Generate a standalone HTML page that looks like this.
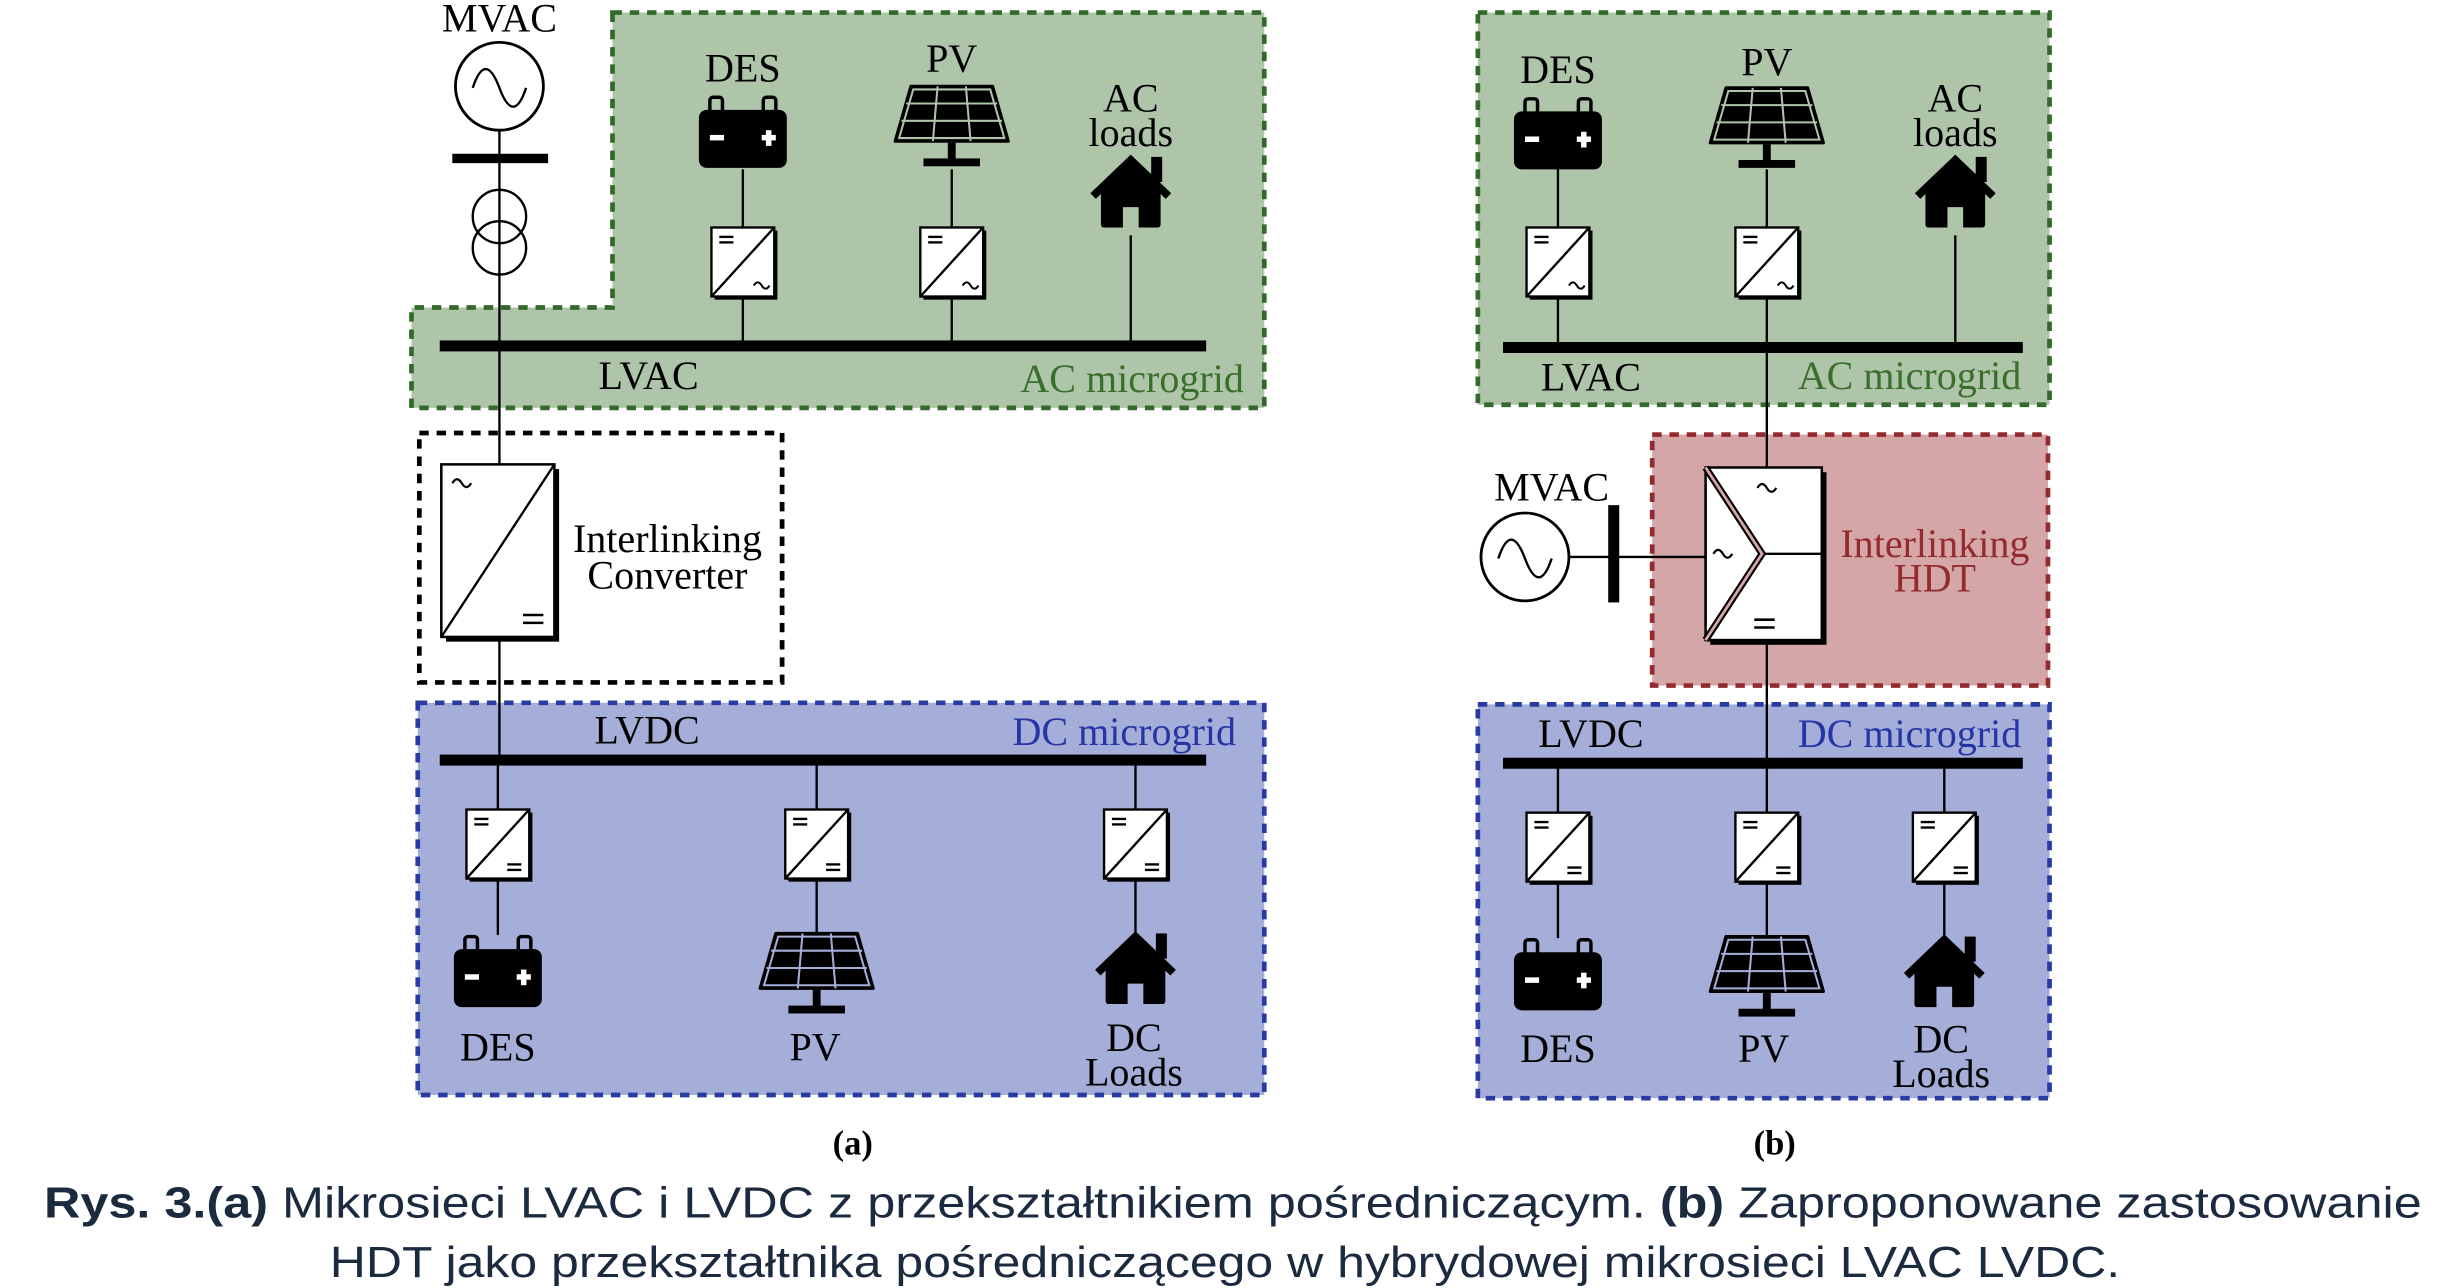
<!DOCTYPE html>
<html><head><meta charset="utf-8"><style>
html,body{margin:0;padding:0;background:#fff;}
svg{display:block;}
</style></head><body>
<svg width="2461" height="1288" viewBox="0 0 1567 821" preserveAspectRatio="none" xmlns="http://www.w3.org/2000/svg" font-family="'Liberation Serif', serif">
<defs>
  <g id="convAC">
    <rect x="2" y="2" width="40" height="44" fill="#000"/>
    <rect x="0" y="0" width="40" height="44" fill="#fff" stroke="#000" stroke-width="1.5"/>
    <line x1="0" y1="44" x2="40" y2="0" stroke="#000" stroke-width="1.5"/>
    <line x1="5" y1="6" x2="14" y2="6" stroke="#000" stroke-width="1.5"/>
    <line x1="5" y1="9.5" x2="14" y2="9.5" stroke="#000" stroke-width="1.5"/>
    <path d="M27 37 q2.5 -4 5 0 t5 0" fill="none" stroke="#000" stroke-width="1.3"/>
  </g>
  <g id="convDC">
    <rect x="2" y="2" width="40" height="44" fill="#000"/>
    <rect x="0" y="0" width="40" height="44" fill="#fff" stroke="#000" stroke-width="1.5"/>
    <line x1="0" y1="44" x2="40" y2="0" stroke="#000" stroke-width="1.5"/>
    <line x1="5" y1="6" x2="14" y2="6" stroke="#000" stroke-width="1.5"/>
    <line x1="5" y1="9.5" x2="14" y2="9.5" stroke="#000" stroke-width="1.5"/>
    <line x1="26" y1="35" x2="35" y2="35" stroke="#000" stroke-width="1.5"/>
    <line x1="26" y1="38.5" x2="35" y2="38.5" stroke="#000" stroke-width="1.5"/>
  </g>
  <g id="batt">
    <rect x="-21" y="0" width="8" height="12" rx="2" fill="none" stroke="#000" stroke-width="2.2"/>
    <rect x="13" y="0" width="8" height="12" rx="2" fill="none" stroke="#000" stroke-width="2.2"/>
    <rect x="-28" y="8" width="56" height="37" rx="5" fill="#000"/>
    <rect x="-21" y="24" width="9" height="3.5" fill="#fff"/>
    <rect x="12" y="24" width="9" height="3.5" fill="#fff"/>
    <rect x="14.7" y="21" width="3.5" height="10" fill="#fff"/>
  </g>
  <g id="pv">
    <path d="M-26 0 L26 0 L36 35 L-36 35 Z" fill="#000" stroke="#000" stroke-width="2" stroke-linejoin="round"/>
    <g stroke="currentColor" stroke-width="1.3">
      <line x1="-29" y1="11" x2="29" y2="11"/>
      <line x1="-32" y1="22" x2="32" y2="22"/>
      <line x1="-9" y1="0" x2="-12" y2="35"/>
      <line x1="9" y1="0" x2="12" y2="35"/>
      <path d="M-24.5 2 L24.5 2 L33.5 33 L-33.5 33 Z" fill="none"/>
    </g>
    <rect x="-2.5" y="36" width="5" height="11" fill="#000"/>
    <rect x="-18" y="46" width="36" height="5" fill="#000"/>
  </g>
  <g id="house">
    <path d="M-19 21 L-19 43 Q-19 45 -17 45 L-5 45 L-5 32 L5 32 L5 45 L17 45 Q19 45 19 43 L19 21 L0 3 Z" fill="#000"/>
    <path d="M-24 25 L0 2 L24 25" fill="none" stroke="#000" stroke-width="5" stroke-linejoin="miter"/>
    <rect x="13" y="0" width="7" height="16" fill="#000"/>
  </g>
</defs>

<!-- ============ (a) ============ -->
<path d="M390 8 L805 8 L805 260 L262 260 L262 196 L390 196 Z" fill="#afc5aa" stroke="#33692a" stroke-width="3" stroke-dasharray="6,5"/>
<rect x="266" y="448" width="539" height="250" fill="#a5aed8" stroke="#2a3aa3" stroke-width="3" stroke-dasharray="6,5"/>
<rect x="267" y="276" width="231" height="159" fill="#fff" stroke="#000" stroke-width="3" stroke-dasharray="6,5"/>

<g font-size="25.5">
<text x="318" y="20" text-anchor="middle">MVAC</text>
<text x="413" y="248" text-anchor="middle">LVAC</text>
<text x="792" y="250" text-anchor="end" fill="#3a6f2b">AC microgrid</text>
<text x="473" y="52" text-anchor="middle">DES</text>
<text x="606" y="46" text-anchor="middle">PV</text>
<text x="720" y="71" text-anchor="middle">AC</text>
<text x="720" y="93" text-anchor="middle">loads</text>
<text x="425" y="352" text-anchor="middle">Interlinking</text>
<text x="425" y="375" text-anchor="middle">Converter</text>
<text x="412" y="474" text-anchor="middle">LVDC</text>
<text x="787" y="475" text-anchor="end" fill="#2535a5">DC microgrid</text>
<text x="317" y="676" text-anchor="middle">DES</text>
<text x="519" y="676" text-anchor="middle">PV</text>
<text x="722" y="670" text-anchor="middle">DC</text>
<text x="722" y="692" text-anchor="middle">Loads</text>
</g>
<circle cx="318" cy="55" r="28" fill="#fff" stroke="#000" stroke-width="1.8"/>
<path d="M301 56 q8 -24 17 0 t17 0" fill="none" stroke="#000" stroke-width="1.5"/>
<line x1="318" y1="83" x2="318" y2="296" stroke="#000" stroke-width="1.5"/>
<rect x="288" y="98" width="61" height="6" fill="#000"/>
<circle cx="318" cy="138" r="17" fill="none" stroke="#000" stroke-width="1.5"/>
<circle cx="318" cy="158" r="17" fill="none" stroke="#000" stroke-width="1.5"/>
<rect x="280" y="217" width="488" height="7" fill="#000"/>

<use href="#batt" x="473" y="62"/>
<line x1="473" y1="108" x2="473" y2="220" stroke="#000" stroke-width="1.5"/>
<use href="#convAC" x="453" y="145"/>
<use href="#pv" x="606" y="55" color="#afc5aa"/>
<line x1="606" y1="108" x2="606" y2="220" stroke="#000" stroke-width="1.5"/>
<use href="#convAC" x="586" y="145"/>
<use href="#house" x="720" y="100"/>
<line x1="720" y1="150" x2="720" y2="220" stroke="#000" stroke-width="1.5"/>

<!-- interlinking converter -->
<rect x="284" y="299" width="72" height="110" fill="#000"/>
<rect x="281" y="296" width="72" height="110" fill="#fff" stroke="#000" stroke-width="1.6"/>
<line x1="281" y1="406" x2="353" y2="296" stroke="#000" stroke-width="1.5"/>
<path d="M288 308 q3 -5 6 0 t6 0" fill="none" stroke="#000" stroke-width="1.4"/>
<line x1="333" y1="392" x2="346" y2="392" stroke="#000" stroke-width="1.6"/>
<line x1="333" y1="397" x2="346" y2="397" stroke="#000" stroke-width="1.6"/>
<line x1="318" y1="406" x2="318" y2="484" stroke="#000" stroke-width="1.5"/>

<rect x="280" y="481" width="488" height="7" fill="#000"/>
<g stroke="#000" stroke-width="1.5">
<line x1="317" y1="484" x2="317" y2="596"/>
<line x1="520" y1="484" x2="520" y2="596"/>
<line x1="723" y1="484" x2="723" y2="596"/>
</g>
<use href="#convDC" x="297" y="516"/>
<use href="#convDC" x="500" y="516"/>
<use href="#convDC" x="703" y="516"/>
<use href="#batt" x="317" y="597"/>
<use href="#pv" x="520" y="595" color="#a5aed8"/>
<use href="#house" x="723" y="595"/>
<text x="543" y="736" font-size="22" font-weight="bold" text-anchor="middle">(a)</text>

<!-- ============ (b) ============ -->
<rect x="941" y="8" width="364" height="250" fill="#afc5aa" stroke="#33692a" stroke-width="3" stroke-dasharray="6,5"/>
<rect x="1052" y="277" width="252" height="160" fill="#d4a6a8" stroke="#922a2e" stroke-width="3" stroke-dasharray="6,5"/>
<rect x="941" y="449" width="364" height="251" fill="#a5aed8" stroke="#2a3aa3" stroke-width="3" stroke-dasharray="6,5"/>

<g font-size="25.5">
<text x="992" y="53" text-anchor="middle">DES</text>
<text x="1125" y="48" text-anchor="middle">PV</text>
<text x="1245" y="71" text-anchor="middle">AC</text>
<text x="1245" y="93" text-anchor="middle">loads</text>
<text x="1013" y="249" text-anchor="middle">LVAC</text>
<text x="1287" y="248" text-anchor="end" fill="#3a6f2b">AC microgrid</text>
<text x="988" y="319" text-anchor="middle">MVAC</text>
<text x="1232" y="355" text-anchor="middle" fill="#922a2e">Interlinking</text>
<text x="1232" y="377" text-anchor="middle" fill="#922a2e">HDT</text>
<text x="1013" y="476" text-anchor="middle">LVDC</text>
<text x="1287" y="476" text-anchor="end" fill="#2535a5">DC microgrid</text>
<text x="992" y="677" text-anchor="middle">DES</text>
<text x="1123" y="677" text-anchor="middle">PV</text>
<text x="1236" y="671" text-anchor="middle">DC</text>
<text x="1236" y="693" text-anchor="middle">Loads</text>
</g>
<use href="#batt" x="992" y="63"/>
<line x1="992" y1="108" x2="992" y2="221" stroke="#000" stroke-width="1.5"/>
<use href="#convAC" x="972" y="145"/>
<use href="#pv" x="1125" y="56" color="#afc5aa"/>
<line x1="1125" y1="108" x2="1125" y2="298" stroke="#000" stroke-width="1.5"/>
<use href="#convAC" x="1105" y="145"/>
<use href="#house" x="1245" y="100"/>
<line x1="1245" y1="150" x2="1245" y2="221" stroke="#000" stroke-width="1.5"/>
<rect x="957" y="218" width="331" height="7" fill="#000"/>

<!-- HDT -->
<circle cx="971" cy="355" r="28" fill="#fff" stroke="#000" stroke-width="1.8"/>
<path d="M954 356 q8 -24 17 0 t17 0" fill="none" stroke="#000" stroke-width="1.5"/>
<line x1="999" y1="355" x2="1086" y2="355" stroke="#000" stroke-width="1.5"/>
<rect x="1024" y="322" width="7" height="62" fill="#000"/>
<rect x="1089" y="301" width="74" height="110" fill="#000"/>
<rect x="1086" y="298" width="74" height="110" fill="#fff" stroke="#000" stroke-width="1.6"/>
<line x1="1123" y1="353" x2="1160" y2="353" stroke="#000" stroke-width="1.5"/>
<path d="M1086 298 L1122 353 L1086 408" fill="none" stroke="#000" stroke-width="4.5"/>
<path d="M1086 298 L1122 353 L1086 408" fill="none" stroke="#d4a6a8" stroke-width="1.8"/>
<line x1="1086" y1="308" x2="1086" y2="399" stroke="#000" stroke-width="1.5"/>
<path d="M1119 311 q3 -5 6 0 t6 0" fill="none" stroke="#000" stroke-width="1.4"/>
<path d="M1091 353 q3 -5 6 0 t6 0" fill="none" stroke="#000" stroke-width="1.4"/>
<line x1="1117" y1="395" x2="1130" y2="395" stroke="#000" stroke-width="1.6"/>
<line x1="1117" y1="400" x2="1130" y2="400" stroke="#000" stroke-width="1.6"/>
<line x1="1125" y1="408" x2="1125" y2="486" stroke="#000" stroke-width="1.5"/>

<rect x="957" y="483" width="331" height="7" fill="#000"/>
<g stroke="#000" stroke-width="1.5">
<line x1="992" y1="486" x2="992" y2="598"/>
<line x1="1125" y1="486" x2="1125" y2="598"/>
<line x1="1238" y1="486" x2="1238" y2="598"/>
</g>
<use href="#convDC" x="972" y="518"/>
<use href="#convDC" x="1105" y="518"/>
<use href="#convDC" x="1218" y="518"/>
<use href="#batt" x="992" y="599"/>
<use href="#pv" x="1125" y="597" color="#a5aed8"/>
<use href="#house" x="1238" y="597"/>
<text x="1130" y="736" font-size="22" font-weight="bold" text-anchor="middle">(b)</text>

<!-- caption -->
<g font-family="'Liberation Sans', sans-serif" font-size="28" fill="#1c2a40">
<text x="28" y="776" textLength="1514" lengthAdjust="spacingAndGlyphs"><tspan font-weight="bold">Rys. 3.(a)</tspan> Mikrosieci LVAC i LVDC z przekształtnikiem pośredniczącym. <tspan font-weight="bold">(b)</tspan> Zaproponowane zastosowanie</text>
<text x="210" y="814" textLength="1140" lengthAdjust="spacingAndGlyphs">HDT jako przekształtnika pośredniczącego w hybrydowej mikrosieci LVAC LVDC.</text>
</g>
</svg>
</body></html>
